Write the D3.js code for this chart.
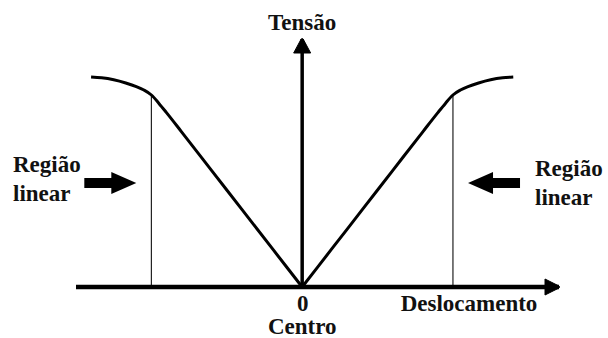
<!DOCTYPE html>
<html>
<head>
<meta charset="utf-8">
<script src="https://cdn.jsdelivr.net/npm/d3@7"></script>
<style>
  body { margin: 0; background: #fff; }
  text { font-family: "Liberation Serif", "DejaVu Serif", "Times New Roman", Times, serif; font-weight: bold; font-size: 23px; fill: #111; }
</style>
</head>
<body>
<svg id="area" width="608" height="338"></svg>
<script>
// displacement (arbitrary units) and output voltage
const deslocamento = [-14, -13.3, -12.5, -11.7, -11, -10.5, -10, -9.5, -9, -8, -6, -4, -2, 0,
  2, 4, 6, 8, 9, 9.5, 10, 10.5, 11, 11.7, 12.5, 13.3, 14];
const tensao = [10.5, 10.46, 10.36, 10.2, 10.02, 9.85, 9.6, 9.18, 8.72, 7.76, 5.82, 3.88, 1.94, 0,
  1.94, 3.88, 5.82, 7.76, 8.72, 9.18, 9.6, 9.85, 10.02, 10.2, 10.36, 10.46, 10.5];
const limitesLineares = [-10, 10];
const rotulosX = ['0'];

const serif = '"Liberation Serif", "DejaVu Serif", "Times New Roman", Times, serif';
const svg = d3.select('#area');

const x = d3.scaleLinear()
  .domain([-15, 17.1])
  .range([76, 560]);
const y = d3.scaleLinear()
  .domain([0, 12.45])
  .range([287, 38]);

// arrowheads
const defs = svg.append('defs');
defs.append('marker')
  .attr('id', 'headX')
  .attr('viewBox', '0 0 16 18')
  .attr('refX', 15)
  .attr('refY', 9)
  .attr('markerUnits', 'userSpaceOnUse')
  .attr('markerWidth', 16)
  .attr('markerHeight', 18)
  .attr('orient', 'auto')
  .append('path')
  .attr('d', 'M1,1 L15,8 Q16,9 15,10 L1,17 Z')
  .attr('fill', '#000')
  .attr('stroke', '#000')
  .attr('stroke-linejoin', 'round');
defs.append('marker')
  .attr('id', 'headY')
  .attr('viewBox', '0 0 16 19')
  .attr('refX', 15)
  .attr('refY', 9.5)
  .attr('markerUnits', 'userSpaceOnUse')
  .attr('markerWidth', 16)
  .attr('markerHeight', 19)
  .attr('orient', 'auto')
  .append('path')
  .attr('d', 'M1,1 L15,8.5 Q16,9.5 15,10.5 L1,18 Z')
  .attr('fill', '#000')
  .attr('stroke', '#000')
  .attr('stroke-linejoin', 'round');

// thin limits of the linear region
svg.selectAll('line.limite')
  .data(limitesLineares)
  .enter().append('line')
  .attr('class', 'limite')
  .attr('x1', (d) => x(d))
  .attr('x2', (d) => x(d))
  .attr('y1', y(0))
  .attr('y2', (d) => y(tensao[deslocamento.indexOf(d)]))
  .attr('stroke', '#222')
  .attr('stroke-width', 1.2);

// x axis
const xAxis = d3.axisBottom(x).tickValues([0]).tickSize(0).tickPadding(8)
  .tickFormat((d, i) => rotulosX[i]);
const gx = svg.append('g')
  .attr('transform', `translate(0, ${y(0)})`)
  .call(xAxis)
  .attr('font-family', serif)
  .attr('font-size', 23);
gx.select('.domain').remove();
gx.selectAll('text')
  .attr('fill', null)
  .attr('dy', '0.7em');

svg.append('line')
  .attr('x1', x(-15))
  .attr('x2', x(17.1) - 1)
  .attr('y1', y(0))
  .attr('y2', y(0))
  .attr('stroke', '#000')
  .attr('stroke-width', 4.5)
  .attr('marker-end', 'url(#headX)');

// y axis
svg.append('line')
  .attr('x1', x(0))
  .attr('x2', x(0))
  .attr('y1', y(0))
  .attr('y2', y(12.45) + 1)
  .attr('stroke', '#000')
  .attr('stroke-width', 3.5)
  .attr('marker-end', 'url(#headY)');

// response curve
const pts = deslocamento.map((d, i) => [d, tensao[i]]);
const line = d3.line()
  .x((d) => x(d[0]))
  .y((d) => y(d[1]))
  .curve(d3.curveMonotoneX);
svg.append('path')
  .datum(pts.filter((d) => d[0] <= 0))
  .attr('d', line)
  .attr('fill', 'none')
  .attr('stroke', '#000')
  .attr('stroke-width', 3);
svg.append('path')
  .datum(pts.filter((d) => d[0] >= 0))
  .attr('d', line)
  .attr('fill', 'none')
  .attr('stroke', '#000')
  .attr('stroke-width', 3);

// labels
svg.append('text')
  .attr('x', x(0))
  .attr('y', 30)
  .attr('font-family', serif)
  .attr('text-anchor', 'middle')
  .text('Tensão');
svg.append('text')
  .attr('x', 469)
  .attr('y', 311)
  .attr('font-family', serif)
  .attr('text-anchor', 'middle')
  .text('Deslocamento');
svg.append('text')
  .attr('x', x(0))
  .attr('y', 334)
  .attr('font-family', serif)
  .attr('text-anchor', 'middle')
  .text('Centro');

// "Região linear" callouts with block arrows
const callouts = [
  { side: -1, tx: 13, ty: 172, tip: -11 },
  { side: 1, tx: 535, ty: 176, tip: 11 },
];
callouts.forEach((c) => {
  const t = svg.append('text').attr('x', c.tx).attr('y', c.ty).attr('font-family', serif);
  t.append('tspan').attr('x', c.tx).text('Região');
  t.append('tspan').attr('x', c.tx).attr('dy', 29).text('linear');

  const tipX = x(c.tip);
  const cy = 183;
  const s = c.side; // arrow tail extends away from the curve
  const p = d3.path();
  p.moveTo(tipX, cy);
  p.lineTo(tipX + s * 25, cy - 11);
  p.lineTo(tipX + s * 25, cy - 5);
  p.lineTo(tipX + s * 52, cy - 5);
  p.lineTo(tipX + s * 52, cy + 5);
  p.lineTo(tipX + s * 25, cy + 5);
  p.lineTo(tipX + s * 25, cy + 11);
  p.closePath();
  svg.append('path')
    .attr('d', p.toString())
    .attr('fill', '#000');
});
</script>
</body>
</html>
